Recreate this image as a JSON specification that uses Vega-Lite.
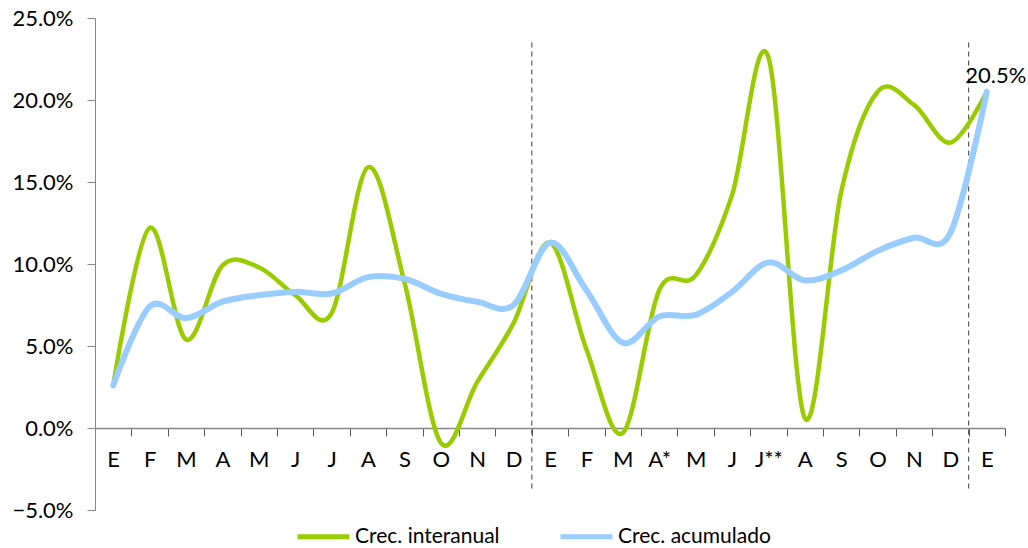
{
  "$schema": "https://vega.github.io/schema/vega-lite/v6.json",
  "autosize": "none",
  "width": 910,
  "height": 492,
  "padding": {"left": 95, "top": 18, "right": 23, "bottom": 38},
  "background": "white",
  "config": {
    "view": {"stroke": null},
    "font": "Lato",
    "axis": {"labelFont": "Lato", "labelFontSize": 22, "labelColor": "#000000", "grid": false, "title": null}
  },
  "datasets": {
    "series": [
      {"mes": "E|1", "serie": "Crec. interanual", "valor": 2.6},
      {"mes": "F|2", "serie": "Crec. interanual", "valor": 12.2},
      {"mes": "M|3", "serie": "Crec. interanual", "valor": 5.4},
      {"mes": "A|4", "serie": "Crec. interanual", "valor": 9.9},
      {"mes": "M|5", "serie": "Crec. interanual", "valor": 9.8},
      {"mes": "J|6", "serie": "Crec. interanual", "valor": 8.1},
      {"mes": "J|7", "serie": "Crec. interanual", "valor": 7.0},
      {"mes": "A|8", "serie": "Crec. interanual", "valor": 15.9},
      {"mes": "S|9", "serie": "Crec. interanual", "valor": 8.9},
      {"mes": "O|10", "serie": "Crec. interanual", "valor": -0.9},
      {"mes": "N|11", "serie": "Crec. interanual", "valor": 2.8},
      {"mes": "D|12", "serie": "Crec. interanual", "valor": 6.4},
      {"mes": "E|13", "serie": "Crec. interanual", "valor": 11.3},
      {"mes": "F|14", "serie": "Crec. interanual", "valor": 4.8},
      {"mes": "M|15", "serie": "Crec. interanual", "valor": -0.3},
      {"mes": "A*|16", "serie": "Crec. interanual", "valor": 8.4},
      {"mes": "M|17", "serie": "Crec. interanual", "valor": 9.3},
      {"mes": "J|18", "serie": "Crec. interanual", "valor": 14.2},
      {"mes": "J**|19", "serie": "Crec. interanual", "valor": 22.6},
      {"mes": "A|20", "serie": "Crec. interanual", "valor": 0.6},
      {"mes": "S|21", "serie": "Crec. interanual", "valor": 14.4},
      {"mes": "O|22", "serie": "Crec. interanual", "valor": 20.5},
      {"mes": "N|23", "serie": "Crec. interanual", "valor": 19.7},
      {"mes": "D|24", "serie": "Crec. interanual", "valor": 17.4},
      {"mes": "E|25", "serie": "Crec. interanual", "valor": 20.5},
      {"mes": "E|1", "serie": "Crec. acumulado", "valor": 2.6},
      {"mes": "F|2", "serie": "Crec. acumulado", "valor": 7.4},
      {"mes": "M|3", "serie": "Crec. acumulado", "valor": 6.7},
      {"mes": "A|4", "serie": "Crec. acumulado", "valor": 7.7},
      {"mes": "M|5", "serie": "Crec. acumulado", "valor": 8.1},
      {"mes": "J|6", "serie": "Crec. acumulado", "valor": 8.3},
      {"mes": "J|7", "serie": "Crec. acumulado", "valor": 8.2},
      {"mes": "A|8", "serie": "Crec. acumulado", "valor": 9.2},
      {"mes": "S|9", "serie": "Crec. acumulado", "valor": 9.1},
      {"mes": "O|10", "serie": "Crec. acumulado", "valor": 8.2},
      {"mes": "N|11", "serie": "Crec. acumulado", "valor": 7.7},
      {"mes": "D|12", "serie": "Crec. acumulado", "valor": 7.5},
      {"mes": "E|13", "serie": "Crec. acumulado", "valor": 11.3},
      {"mes": "F|14", "serie": "Crec. acumulado", "valor": 8.4},
      {"mes": "M|15", "serie": "Crec. acumulado", "valor": 5.2},
      {"mes": "A*|16", "serie": "Crec. acumulado", "valor": 6.8},
      {"mes": "M|17", "serie": "Crec. acumulado", "valor": 6.9},
      {"mes": "J|18", "serie": "Crec. acumulado", "valor": 8.3},
      {"mes": "J**|19", "serie": "Crec. acumulado", "valor": 10.1},
      {"mes": "A|20", "serie": "Crec. acumulado", "valor": 9.0},
      {"mes": "S|21", "serie": "Crec. acumulado", "valor": 9.6},
      {"mes": "O|22", "serie": "Crec. acumulado", "valor": 10.8},
      {"mes": "N|23", "serie": "Crec. acumulado", "valor": 11.6},
      {"mes": "D|24", "serie": "Crec. acumulado", "valor": 11.9},
      {"mes": "E|25", "serie": "Crec. acumulado", "valor": 20.5}
    ],
    "cortes": [{"mes": "E|13"}, {"mes": "E|25"}]
  },
  "encoding": {
    "x": {
      "field": "mes",
      "type": "nominal",
      "scale": {
        "type": "band",
        "paddingInner": 0,
        "paddingOuter": 0,
        "domain": ["E|1","F|2","M|3","A|4","M|5","J|6","J|7","A|8","S|9","O|10","N|11","D|12","E|13","F|14","M|15","A*|16","M|17","J|18","J**|19","A|20","S|21","O|22","N|23","D|24","E|25"]
      },
      "axis": {
        "orient": "bottom",
        "offset": -82,
        "labelExpr": "isValid(datum.value) ? split(datum.value, '|')[0] : ''",
        "labelAngle": 0,
        "tickBand": "extent",
        "tickSize": 8,
        "tickColor": "#595959",
        "domainColor": "#868686",
        "domainWidth": 1.5,
        "labelPadding": 13
      }
    }
  },
  "layer": [
    {
      "data": {"name": "cortes"},
      "mark": {"type": "rule", "strokeDash": [5, 4], "color": "#595959", "strokeWidth": 1.2},
      "encoding": {
        "x": {"field": "mes", "type": "nominal", "bandPosition": 0},
        "y": {"datum": 23.5, "type": "quantitative"},
        "y2": {"datum": -3.7}
      }
    },
    {
      "data": {"name": "series"},
      "transform": [{"filter": "datum.serie === 'Crec. interanual'"}],
      "mark": {"type": "line", "interpolate": "cardinal", "strokeWidth": 4.5, "strokeCap": "round"},
      "encoding": {
        "y": {
          "field": "valor",
          "type": "quantitative",
          "scale": {"domain": [-5, 25], "nice": false, "zero": false},
          "axis": {
            "values": [-5, 0, 5, 10, 15, 20, 25],
            "labelExpr": "format(datum.value / 100, '.1%')",
            "tickSize": 8,
            "tickColor": "#868686",
            "domainColor": "#868686",
            "labelPadding": 14
          }
        },
        "color": {
          "field": "serie",
          "type": "nominal",
          "scale": {"domain": ["Crec. interanual", "Crec. acumulado"], "range": ["#99CC00", "#99CCFF"]},
          "legend": {
            "title": null,
            "orient": "none",
            "legendX": 200,
            "legendY": 490,
            "direction": "horizontal",
            "labelFont": "Lato",
            "labelFontSize": 21,
            "labelColor": "#000000",
            "symbolType": "stroke",
            "symbolSize": 2700,
            "symbolStrokeWidth": 5,
            "labelOffset": 3,
            "columnPadding": 50
          }
        }
      }
    },
    {
      "data": {"name": "series"},
      "transform": [{"filter": "datum.serie === 'Crec. acumulado'"}],
      "mark": {"type": "line", "interpolate": "cardinal", "strokeWidth": 6, "strokeCap": "round"},
      "encoding": {
        "y": {"field": "valor", "type": "quantitative"},
        "color": {"field": "serie", "type": "nominal"}
      }
    },
    {
      "data": {"name": "series"},
      "transform": [
        {"filter": "datum.serie === 'Crec. interanual' && datum.mes === 'E|25'"},
        {"calculate": "format(datum.valor, '.1f') + '%'", "as": "etiqueta"}
      ],
      "mark": {"type": "text", "font": "Lato", "fontSize": 22, "color": "#000000", "align": "center", "baseline": "middle", "dx": 9, "dy": -16},
      "encoding": {
        "y": {"field": "valor", "type": "quantitative"},
        "text": {"field": "etiqueta", "type": "nominal"}
      }
    }
  ]
}
